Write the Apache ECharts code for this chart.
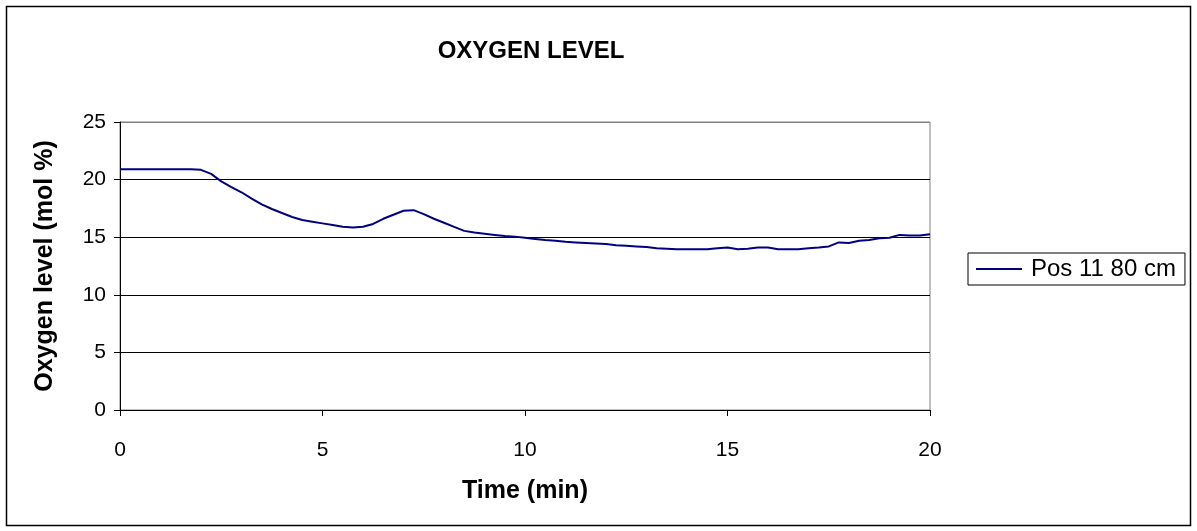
<!DOCTYPE html>
<html>
<head>
<meta charset="utf-8">
<script src="https://cdn.jsdelivr.net/npm/echarts@6/dist/echarts.min.js"></script>
<style>
  html, body { margin: 0; padding: 0; background: #fff; }
  #chart { width: 1197px; height: 531px; }
</style>
</head>
<body>
<div id="chart"></div>
<script>
// Oxygen concentration at position 11 (80 cm), sampled every 0.25 min
const timeMin = [
  0, 0.25, 0.5, 0.75, 1, 1.25, 1.5, 1.75, 2, 2.25, 2.5, 2.75, 3, 3.25, 3.5, 3.75,
  4, 4.25, 4.5, 4.75, 5, 5.25, 5.5, 5.75, 6, 6.25, 6.5, 6.75, 7, 7.25, 7.5, 7.75,
  8, 8.25, 8.5, 8.75, 9, 9.25, 9.5, 9.75, 10, 10.25, 10.5, 10.75, 11, 11.25, 11.5, 11.75,
  12, 12.25, 12.5, 12.75, 13, 13.25, 13.5, 13.75, 14, 14.25, 14.5, 14.75, 15, 15.25, 15.5, 15.75,
  16, 16.25, 16.5, 16.75, 17, 17.25, 17.5, 17.75, 18, 18.25, 18.5, 18.75, 19, 19.25, 19.5, 19.75, 20
];
const oxygenPos11 = [
  20.9, 20.9, 20.9, 20.9, 20.9, 20.9, 20.9, 20.9, 20.85, 20.5, 19.85, 19.35, 18.9, 18.35, 17.85, 17.45,
  17.1, 16.75, 16.5, 16.35, 16.2, 16.05, 15.9, 15.85, 15.9, 16.15, 16.6, 16.95, 17.3, 17.35, 17.0, 16.6,
  16.25, 15.9, 15.55, 15.4, 15.3, 15.2, 15.1, 15.05, 14.95, 14.85, 14.75, 14.7, 14.6, 14.55, 14.5, 14.45,
  14.4, 14.3, 14.25, 14.2, 14.15, 14.05, 14.0, 13.95, 13.95, 13.95, 13.95, 14.05, 14.1, 13.95, 14.0, 14.1,
  14.1, 13.95, 13.95, 13.95, 14.05, 14.1, 14.2, 14.55, 14.5, 14.7, 14.75, 14.9, 14.95, 15.2, 15.15, 15.15, 15.25
];
const seriesName = 'Pos 11 80 cm';
const chartTitle = 'OXYGEN LEVEL';
const xTitle = 'Time (min)';
const yTitle = 'Oxygen level (mol %)';

const FONT = '"Liberation Sans", Arial, sans-serif';
const chart = echarts.init(document.getElementById('chart'), null, { renderer: 'canvas' });

chart.setOption({
  backgroundColor: '#ffffff',
  animation: false,
  title: {
    text: chartTitle,
    left: 526, top: 34, textAlign: 'center',
    textStyle: { fontFamily: FONT, fontSize: 24, fontWeight: 'bold', color: '#000' }
  },
  legend: {
    left: 968, top: 253,
    orient: 'vertical',
    icon: 'rect',
    itemWidth: 46, itemHeight: 2, itemGap: 0,
    padding: [4, 9, 4, 8],
    borderColor: '#000', borderWidth: 1,
    textStyle: { fontFamily: FONT, fontSize: 24, color: '#000', padding: [0, 0, 0, 4] },
    data: [seriesName]
  },
  grid: {
    left: 120, top: 122, width: 810, height: 288,
    show: true, borderColor: '#808080', borderWidth: 1, backgroundColor: 'transparent'
  },
  xAxis: {
    type: 'value', min: 0, max: 20, interval: 5,
    name: xTitle, nameLocation: 'middle', nameGap: 69,
    nameTextStyle: { fontFamily: FONT, fontSize: 25, fontWeight: 'bold', color: '#000' },
    axisLine: { show: true, lineStyle: { color: '#000', width: 1 } },
    axisTick: { show: true, length: 6, lineStyle: { color: '#000' } },
    axisLabel: { fontFamily: FONT, fontSize: 21, color: '#000', margin: 30 },
    splitLine: { show: false }
  },
  yAxis: {
    type: 'value', min: 0, max: 25, interval: 5,
    name: yTitle, nameLocation: 'middle', nameGap: 62, nameRotate: 90,
    nameTextStyle: { fontFamily: FONT, fontSize: 25, fontWeight: 'bold', color: '#000' },
    axisLine: { show: true, lineStyle: { color: '#000', width: 1 } },
    axisTick: { show: true, length: 6, lineStyle: { color: '#000' } },
    axisLabel: { fontFamily: FONT, fontSize: 21, color: '#000', margin: 14 },
    splitLine: { show: true, lineStyle: { color: ['#000', '#000', '#000', '#000', '#000', '#808080'], width: 1 } }
  },
  graphic: [{
    type: 'rect', silent: true,
    shape: { x: 6.5, y: 6.5, width: 1184, height: 519 },
    style: { fill: null, stroke: '#000', lineWidth: 1.5 }
  }],
  series: [{
    name: seriesName,
    type: 'line',
    symbol: 'none',
    data: timeMin.map((t, i) => [t, oxygenPos11[i]]),
    lineStyle: { color: '#000080', width: 2 },
    itemStyle: { color: '#000080' }
  }]
});
</script>
</body>
</html>
